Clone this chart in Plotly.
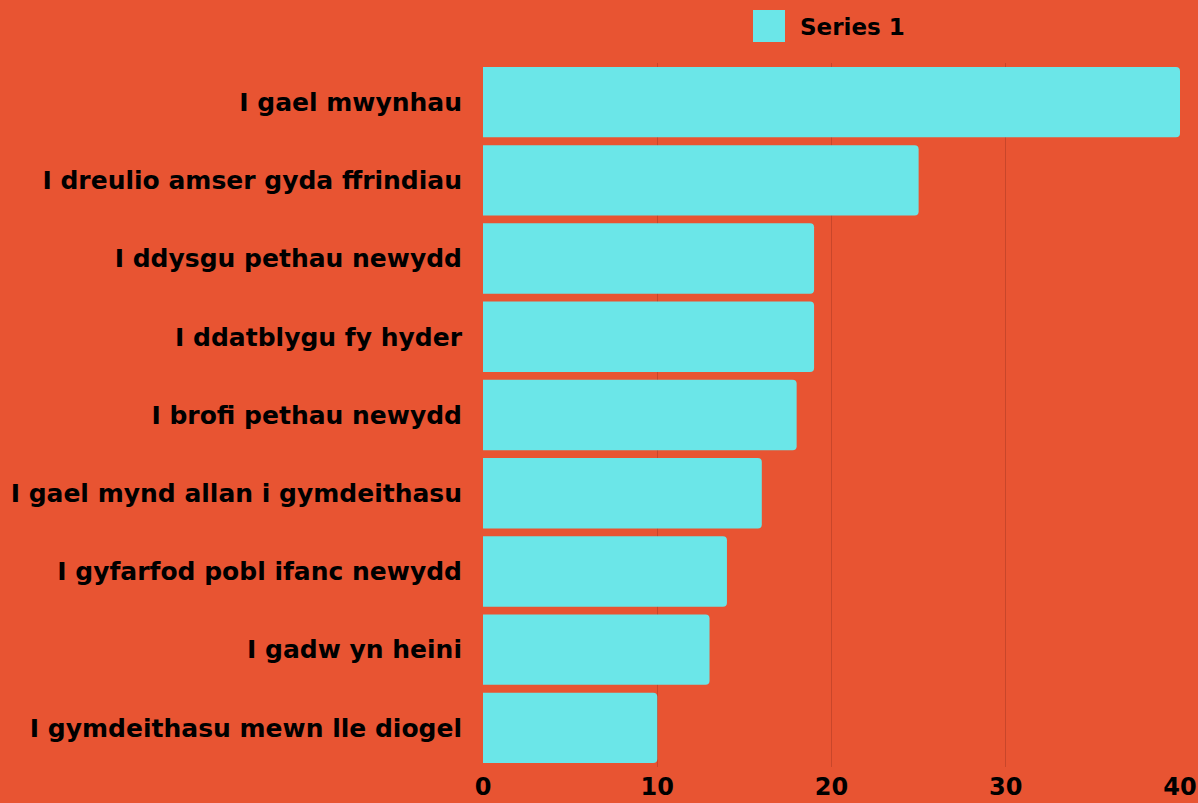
import plotly.graph_objects as go

categories = [
    "I gael mwynhau",
    "I dreulio amser gyda ffrindiau",
    "I ddysgu pethau newydd",
    "I ddatblygu fy hyder",
    "I brofi pethau newydd",
    "I gael mynd allan i gymdeithasu",
    "I gyfarfod pobl ifanc newydd",
    "I gadw yn heini",
    "I gymdeithasu mewn lle diogel",
]
values = [40, 25, 19, 19, 18, 16, 14, 13, 10]
series_name = "Series 1"
x_ticks = [0, 10, 20, 30, 40]

BG = "#E85432"
BAR = "#6BE6E8"
GRID = "#C8462A"
FONT = "DejaVu Sans"
FS = 25

fig = go.Figure()
fig.add_trace(go.Bar(
    y=categories, x=values, orientation="h", name=series_name,
    marker=dict(color=BAR, line=dict(width=0)),
    showlegend=False,
))

W, H = 1198, 803
L, R, T, B = 483, 18, 63, 36
pw, ph = W - L - R, H - T - B

fig.update_layout(
    width=W, height=H,
    paper_bgcolor=BG, plot_bgcolor=BG,
    margin=dict(l=L, r=R, t=T, b=B),
    bargap=0.1,
    barcornerradius=4,
    font=dict(family=FONT, color="#000000", size=FS, weight="bold"),
    xaxis=dict(
        range=[0, 40], tickvals=x_ticks, showgrid=True, gridcolor=GRID, gridwidth=1,
        zeroline=False, showline=False, ticks="", ticklabelstandoff=3,
        automargin=False,
        tickfont=dict(family=FONT, size=24, weight="bold", color="#000000"),
        fixedrange=True,
    ),
    yaxis=dict(
        autorange="reversed", automargin=False, showgrid=False, zeroline=False,
        showline=False, ticks="", ticklabelstandoff=20,
        tickfont=dict(family=FONT, size=FS, weight="bold", color="#000000"),
    ),
    shapes=[dict(type="rect", xref="paper", yref="paper",
                 x0=(753 - L) / pw, x1=(785 - L) / pw,
                 y0=1 + (T - 42) / ph, y1=1 + (T - 10) / ph,
                 fillcolor=BAR, line=dict(width=0))],
    annotations=[dict(text=series_name, xref="paper", yref="paper",
                      x=(798 - L) / pw, y=1 + (T - 27) / ph,
                      xanchor="left", yanchor="middle", showarrow=False,
                      font=dict(family=FONT, size=23, weight="bold", color="#000000"))],
)

fig.write_html("out.html", config={"displayModeBar": False},
               post_script="document.body.style.margin='0';document.body.style.overflow='hidden';")
